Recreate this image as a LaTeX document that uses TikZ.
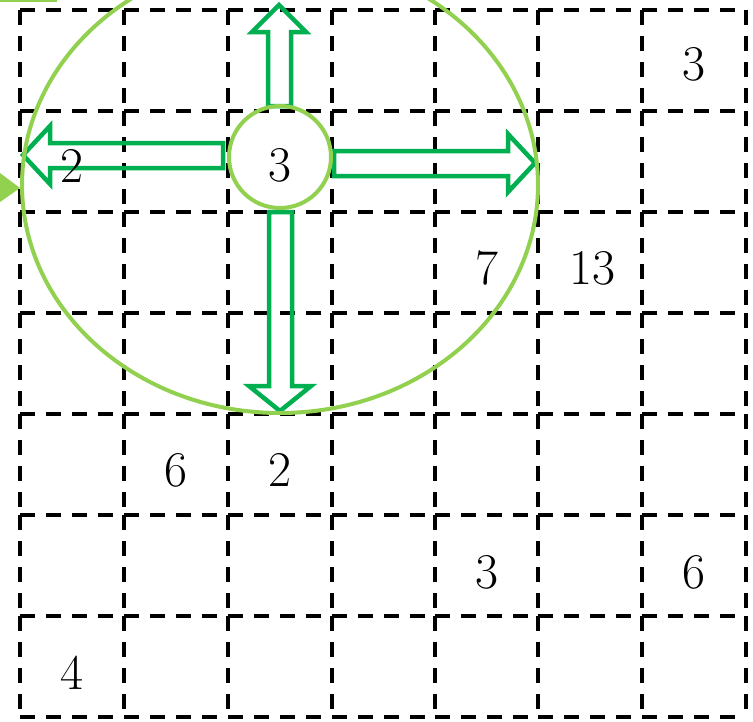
\documentclass[tikz,border=0pt]{standalone}
\begin{document}
\begin{tikzpicture}[x={(1pt,0)},y={(0,-1pt)},
  gridline/.style={line width=3.3pt,dash pattern=on 15pt off 11pt,line cap=butt},
  hollowarrow/.style={draw=arrowgreen,line width=4.5pt,line join=miter},
  num/.style={font=\fontsize{50}{60}\selectfont,inner sep=0pt}]
\definecolor{arrowgreen}{HTML}{00B050}
\definecolor{lightgreen}{HTML}{92D050}
\useasboundingbox (0,0) rectangle (753,721);
% grid
\foreach \i/\xx in {0/20,1/124,2/228,3/332,4/435,5/538,6/642,7/746}{
  \foreach \j/\ya/\yb in {0/10/111,1/111/212,2/212/313,3/313/414,4/414/515,5/515/616,6/616/717}{
    \draw[gridline] (\xx,\ya) -- (\xx,\yb);
  }
}
\foreach \j/\yy in {0/10,1/111,2/212,3/313,4/414,5/515,6/616,7/717}{
  \foreach \xa/\xb in {20/124,124/228,228/332,332/435,435/538,538/642,642/746}{
    \draw[gridline] (\xa,\yy) -- (\xb,\yy);
  }
}
% hollow arrows
\draw[hollowarrow] (268,106) -- (268,32) -- (252,32) -- (279,5) -- (306,32) -- (291,32) -- (291,106) -- cycle;
\draw[hollowarrow] (269,212) -- (269,386) -- (249,386) -- (280,411) -- (311,386) -- (292,386) -- (292,212) -- cycle;
\draw[hollowarrow] (223,143) -- (50,143) -- (50,126) -- (23,155) -- (50,184) -- (50,168) -- (223,168) -- cycle;
\draw[hollowarrow] (334,151) -- (508,151) -- (508,134) -- (535,163) -- (508,192) -- (508,176) -- (334,176) -- cycle;
% circles
\draw[lightgreen,line width=4pt] (280,185) ellipse [x radius=258, y radius=228];
\node[circle,draw=lightgreen,line width=4pt,minimum size=102pt,inner sep=0pt] (c) at (280,157) {};
% left triangle and top line
\fill[lightgreen] (0,173) -- (20,188) -- (0,202) -- cycle;
\draw[lightgreen,line width=2.5pt] (0,1) -- (57,1);
% numbers
\node[num] (n1) at (694,64) {3};
\node[num] (n2) at (72,166) {2};
\node[num] (n3) at (280,165) {3};
\node[num] (n4) at (487,268) {7};
\node[num] (n5) at (592,268) {13};
\node[num] (n6) at (176,470) {6};
\node[num] (n7) at (280,470) {2};
\node[num] (n8) at (487,572) {3};
\node[num] (n9) at (694,572) {6};
\node[num] (n10) at (72,673) {4};
\end{tikzpicture}
\end{document}
